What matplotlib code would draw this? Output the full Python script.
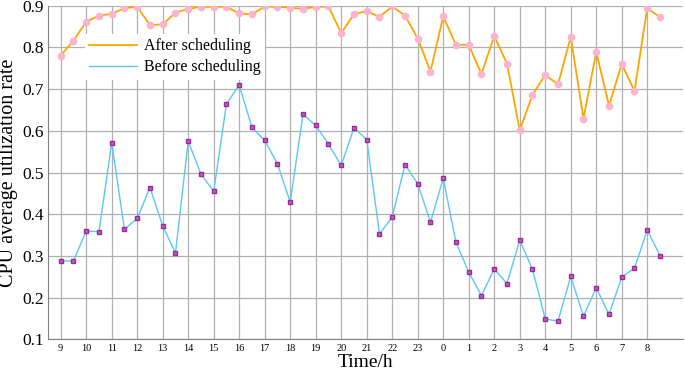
import numpy as np
import matplotlib
matplotlib.use("Agg")
import matplotlib.pyplot as plt

plt.rcParams["font.family"] = ["Liberation Serif", "DejaVu Serif"]

ORANGE = "#ffa500"
PINK   = "#ffb3cf"
BLUE   = "#5cc8f0"
PURPLE = "#9a2a9a"

# half-hour samples from 9:00 to 8:30 next day
hour_labels = [str(h) for h in list(range(9, 24)) + list(range(0, 9))]

after = [0.780, 0.816, 0.861, 0.876, 0.880, 0.894, 0.897, 0.853, 0.855, 0.883,
         0.892, 0.897, 0.897, 0.897, 0.881, 0.879, 0.898, 0.897, 0.895, 0.892,
         0.897, 0.898, 0.834, 0.879, 0.887, 0.873, 0.898, 0.876, 0.821, 0.742,
         0.874, 0.806, 0.806, 0.736, 0.827, 0.761, 0.601, 0.686, 0.734, 0.711,
         0.825, 0.629, 0.789, 0.660, 0.760, 0.695, 0.894, 0.872]

before = [0.288, 0.288, 0.360, 0.358, 0.571, 0.364, 0.390, 0.464, 0.372, 0.307,
          0.575, 0.496, 0.455, 0.664, 0.710, 0.608, 0.577, 0.521, 0.429, 0.639,
          0.613, 0.568, 0.517, 0.607, 0.579, 0.353, 0.393, 0.519, 0.473, 0.381,
          0.486, 0.333, 0.261, 0.205, 0.269, 0.234, 0.338, 0.268, 0.149, 0.144,
          0.251, 0.156, 0.224, 0.160, 0.249, 0.271, 0.362, 0.301]

x = np.arange(len(after))

fig = plt.figure(figsize=(6.85, 3.71), dpi=100)
ax = fig.add_axes([0.070, 0.085, 0.927, 0.900])

ax.plot(x, after, color=ORANGE, lw=1.3, label="After scheduling", zorder=3)
ax.plot(x, after, ls="none", marker="o", ms=4.5, mfc=PINK, mec=PINK, zorder=4)
ax.plot(x, before, color=BLUE, lw=1.0, label="Before scheduling", zorder=3)
ax.plot(x, before, ls="none", marker="s", ms=3.4, mfc="#c060b8", mec=PURPLE,
        mew=1.0, zorder=4)

ax.set_xlim(-1.0, 48.8)
ax.set_ylim(0.1, 0.9)
ax.set_xticks(x[::2])
ax.set_xticklabels(hour_labels, fontsize=7.5)
ax.set_yticks(np.arange(0.1, 0.91, 0.1))
ax.set_yticklabels([f"{v:.1f}" for v in np.arange(0.1, 0.91, 0.1)], fontsize=12.5)
ax.tick_params(length=0, pad=3)

ax.grid(True, color="#b0b0b0", lw=0.9)
ax.set_axisbelow(True)
for s in ["top", "right"]:
    ax.spines[s].set_visible(False)
for s in ["left", "bottom"]:
    ax.spines[s].set_color("#808080")
    ax.spines[s].set_linewidth(0.8)

ax.set_xlabel("Time/h", fontsize=14, labelpad=1)
ax.set_ylabel("CPU average utilization rate", fontsize=14.5, labelpad=3)

leg = ax.legend(loc="upper left", bbox_to_anchor=(0.045, 0.94), fontsize=11.5,
                frameon=True, framealpha=1, edgecolor="none", fancybox=False,
                handlelength=3.0, handletextpad=0.4, labelspacing=0.3,
                borderpad=0.3)

fig.savefig("out.png", dpi=100)
